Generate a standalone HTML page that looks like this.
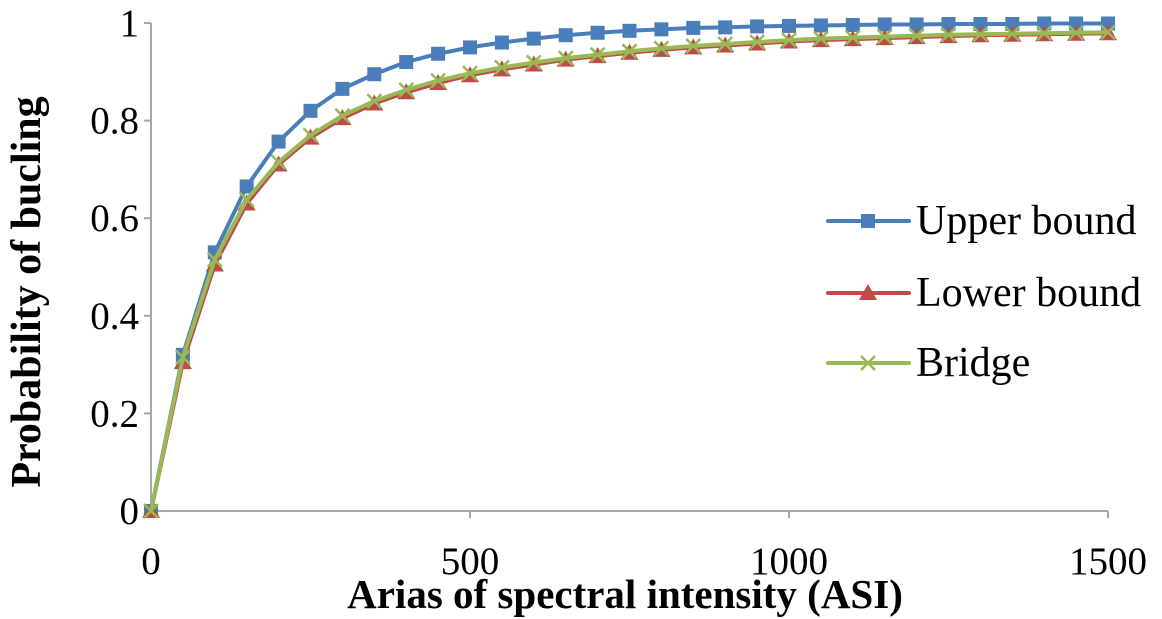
<!DOCTYPE html>
<html><head><meta charset="utf-8"><style>
html,body{margin:0;padding:0;background:#fff;}
svg{display:block;font-family:"Liberation Serif",serif;}
</style></head><body>
<svg id="chart" width="1162" height="619" viewBox="0 0 1162 619" xmlns="http://www.w3.org/2000/svg">
<g id="axes"></g><g id="series"></g><g id="legend"></g>
</svg>
<script>
const xValues = [0,50,100,150,200,250,300,350,400,450,500,550,600,650,700,750,800,850,900,950,1000,1050,1100,1150,1200,1250,1300,1350,1400,1450,1500];
const upperBound = [0,0.32,0.53,0.665,0.757,0.82,0.865,0.895,0.92,0.937,0.95,0.96,0.968,0.975,0.98,0.984,0.987,0.99,0.991,0.993,0.994,0.995,0.996,0.997,0.997,0.998,0.998,0.998,0.999,0.999,0.999];
const lowerBound = [0,0.305,0.505,0.63,0.71,0.765,0.805,0.835,0.858,0.877,0.893,0.905,0.915,0.925,0.932,0.939,0.945,0.95,0.954,0.958,0.962,0.965,0.967,0.969,0.971,0.973,0.975,0.976,0.977,0.978,0.979];
const bridge = [0,0.315,0.515,0.638,0.715,0.77,0.81,0.84,0.863,0.882,0.897,0.909,0.919,0.928,0.935,0.942,0.948,0.953,0.957,0.961,0.965,0.968,0.97,0.972,0.974,0.976,0.977,0.978,0.979,0.98,0.981];
const yTicks = [0,0.2,0.4,0.6,0.8,1];
const yTickLabels = ["0","0.2","0.4","0.6","0.8","1"];
const xTicks = [0,500,1000,1500];
const xTickLabels = ["0","500","1000","1500"];
const seriesNames = ["Upper bound","Lower bound","Bridge"];

const NS="http://www.w3.org/2000/svg";
const X0=151,X1=1108,Y0=511,Y1=23;
const sx=v=>X0+(v-0)/(1500-0)*(X1-X0);
const sy=v=>Y0-(v-0)/(1-0)*(Y0-Y1);
function mk(tag,attrs,parent,text){const e=document.createElementNS(NS,tag);for(const k in attrs)e.setAttribute(k,attrs[k]);if(text!==undefined)e.textContent=text;parent.appendChild(e);return e;}
const axes=document.getElementById('axes'),ser=document.getElementById('series'),leg=document.getElementById('legend');
const AX='#a6a6a6';
let e=mk('line',{x1:X0-7,y1:Y0,x2:X1,y2:Y0,stroke:AX,'stroke-width':2},axes);

e=mk('line',{x1:X0,y1:Y0,x2:X0,y2:Y1,stroke:AX,'stroke-width':2},axes);

yTicks.forEach((t,i)=>{
 mk('line',{x1:X0-7,y1:sy(t),x2:X0,y2:sy(t),stroke:AX,'stroke-width':2},axes);
 e=mk('text',{x:X0-12,y:sy(t)+13,'text-anchor':'end','font-size':39},axes,yTickLabels[i]);
 
});
xTicks.forEach((t,i)=>{
 mk('line',{x1:sx(t),y1:Y0,x2:sx(t),y2:Y0+7,stroke:AX,'stroke-width':2},axes);
 e=mk('text',{x:sx(t),y:574,'text-anchor':'middle','font-size':39},axes,xTickLabels[i]);
 
});
e=mk('text',{x:625,y:608,'text-anchor':'middle','font-size':41,'font-weight':'bold'},axes,'Arias of spectral intensity (ASI)');

e=mk('text',{x:0,y:0,'text-anchor':'middle','font-size':42,'font-weight':'bold',transform:'translate(40,292) rotate(-90)'},axes,'Probability of bucling');


function marker(g,type,x,y,color){
 if(type==='square'){mk('rect',{x:x-7,y:y-7,width:14,height:14,fill:color},g);}
 else if(type==='tri'){mk('polygon',{points:`${x},${y-9} ${x+9},${y+7} ${x-9},${y+7}`,fill:color},g);}
 else {mk('path',{d:`M${x-7},${y-7}L${x+7},${y+7}M${x+7},${y-7}L${x-7},${y+7}`,stroke:color,'stroke-width':2.5},g);}
}
const defs=[[upperBound,'#4a7ebb','square','upper-bound'],[lowerBound,'#be4b48','tri','lower-bound'],[bridge,'#98b954','x','bridge']];
defs.forEach(([vals,col,m,name],si)=>{
 const g=mk('g',{},ser);
 
 const p=mk('polyline',{points:vals.map((v,i)=>sx(xValues[i])+','+sy(v)).join(' '),fill:'none',stroke:col,'stroke-width':4,'stroke-linejoin':'round'},g);
 
 vals.forEach((v,i)=>marker(g,m,sx(xValues[i]),sy(v),col));
 const ly=[221,293,363][si];
 const lg=mk('g',{},leg);
 
 mk('line',{x1:828,y1:ly,x2:909,y2:ly,stroke:col,'stroke-width':4,'stroke-linecap':'round'},lg);
 marker(lg,m,868,ly,col);
 mk('text',{x:916,y:ly+13,'font-size':42},lg,seriesNames[si]);
});
</script>
</body></html>
